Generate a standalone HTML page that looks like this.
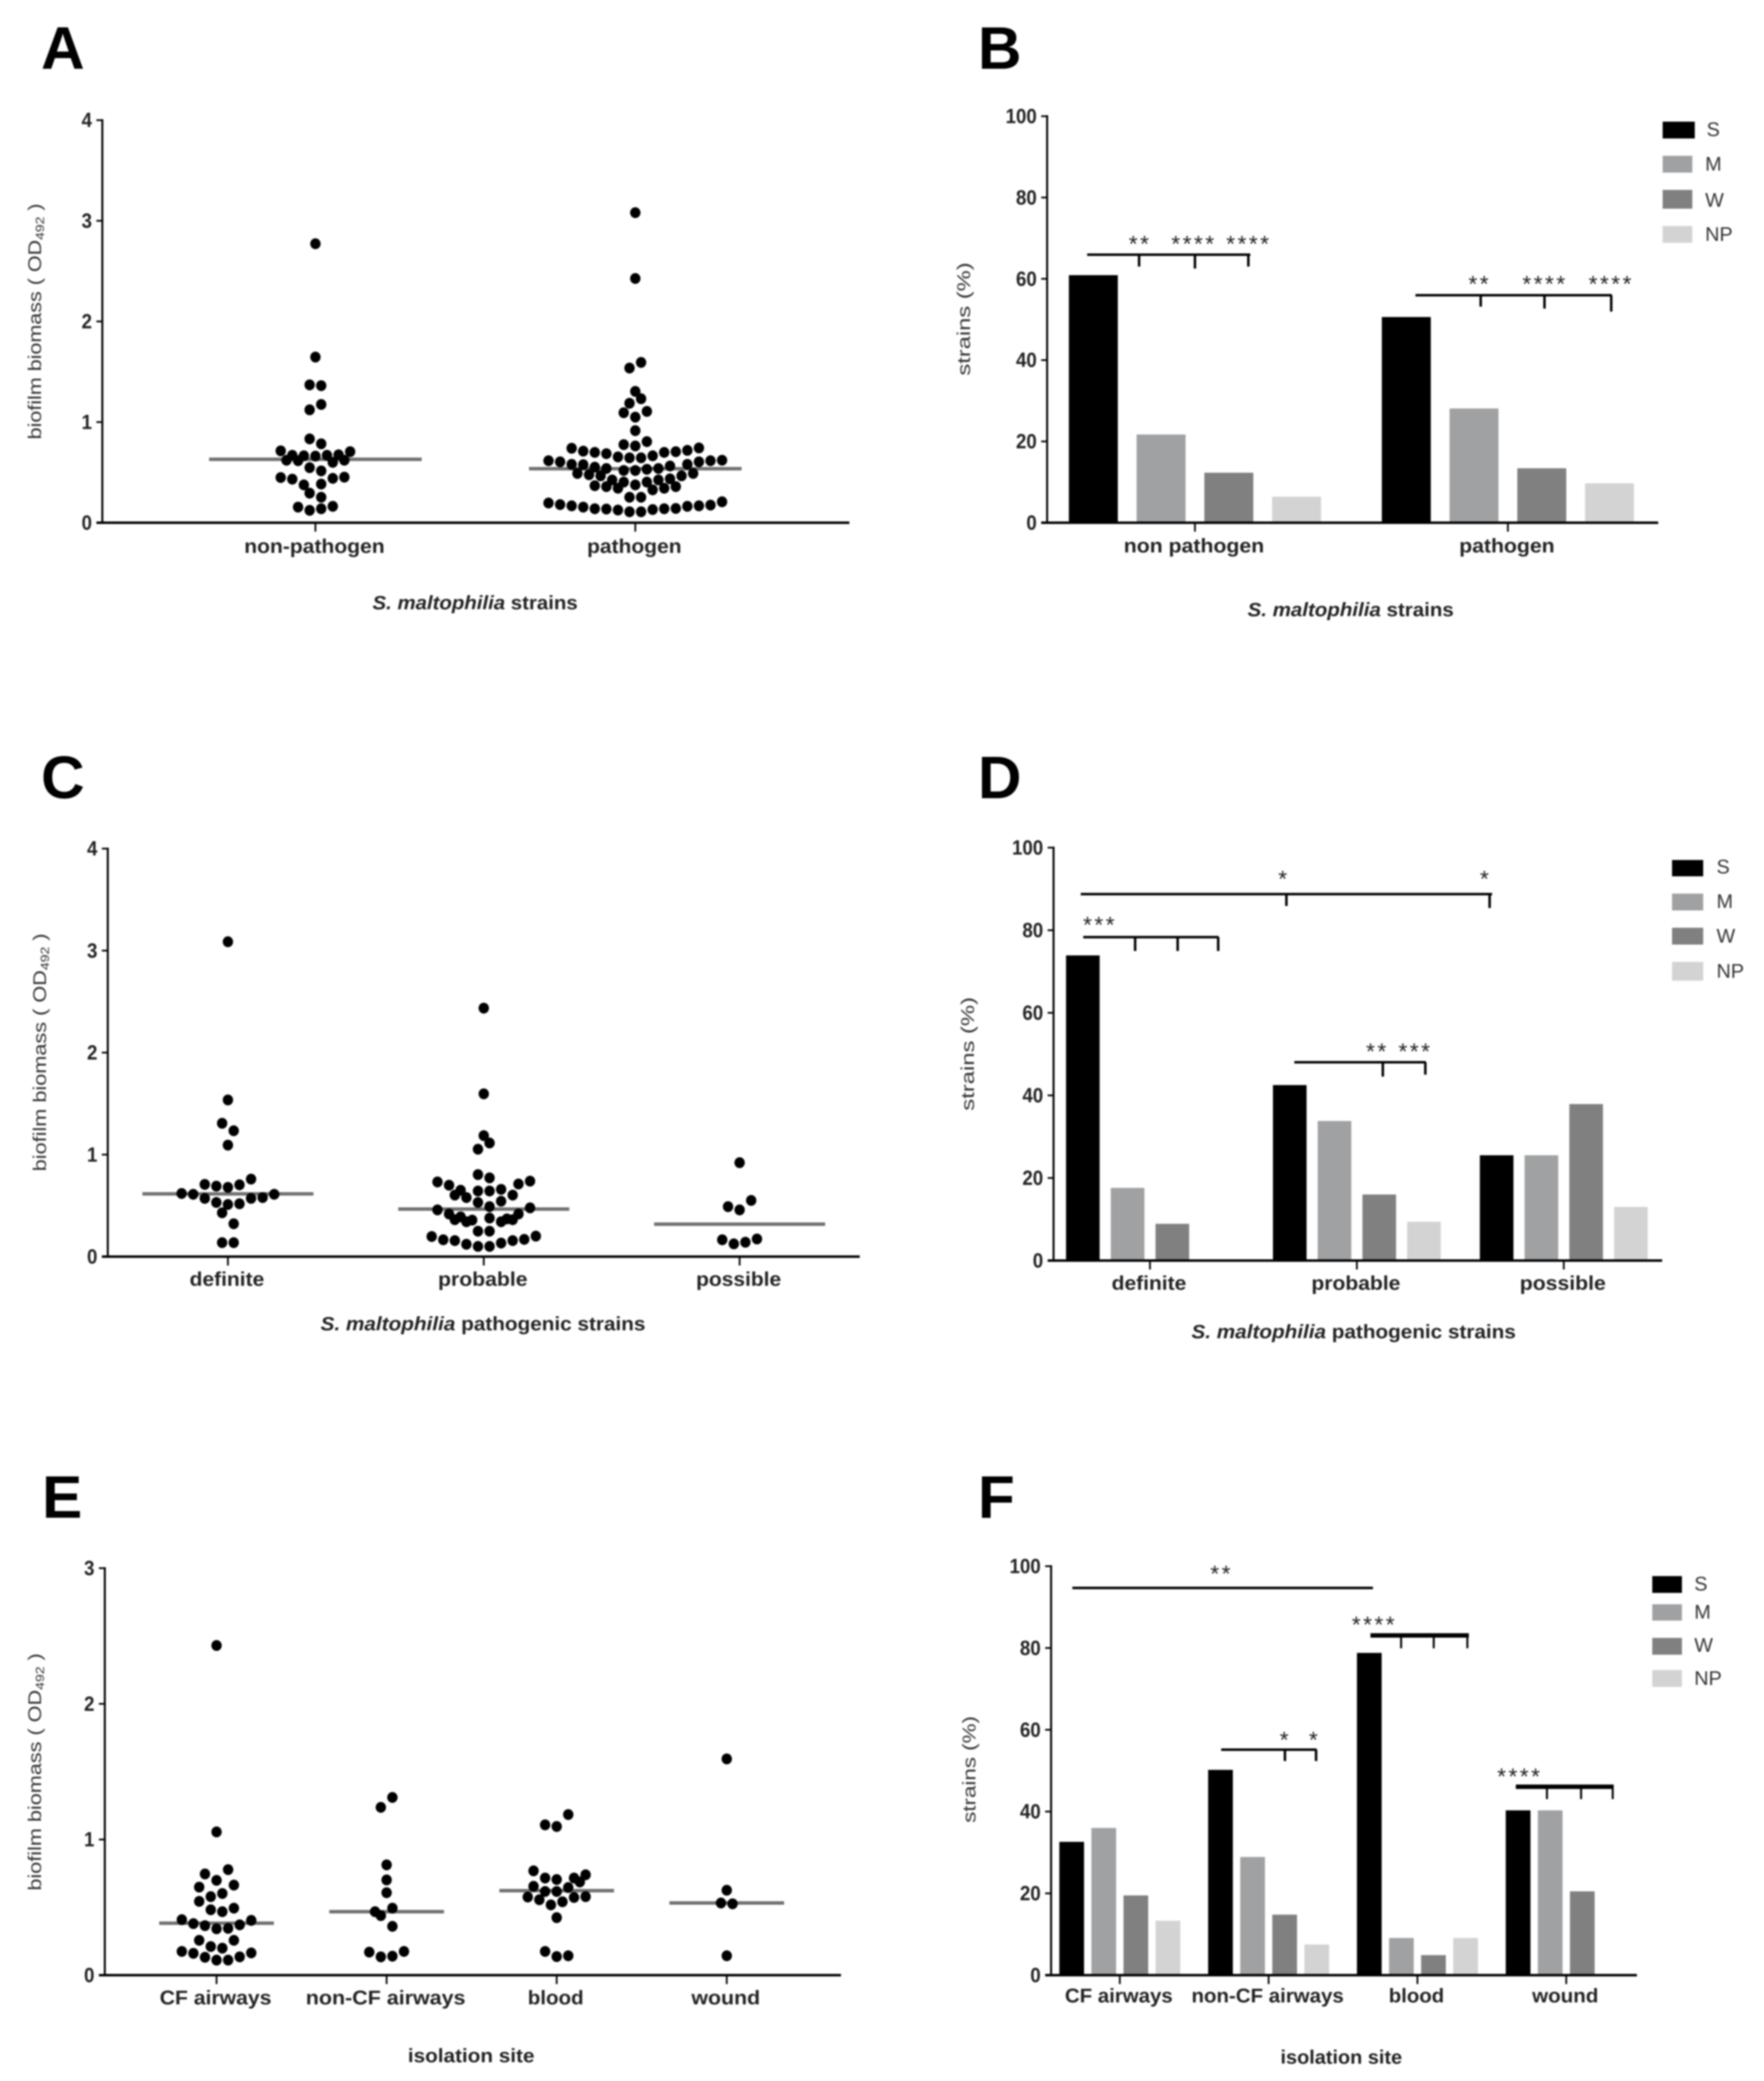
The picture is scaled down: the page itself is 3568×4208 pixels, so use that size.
<!DOCTYPE html>
<html lang="en">
<head>
<meta charset="utf-8">
<title>S. maltophilia biofilm biomass and classes</title>
<style>
html,body{margin:0;padding:0;background:#fff}
#figure{display:block;width:3568px;height:4208px;filter:blur(1.7px);font-family:"Liberation Sans",Arial,sans-serif}
.letter{font-size:122px;font-weight:bold;fill:#000}
.star{font-size:46px;letter-spacing:5px;text-anchor:middle;fill:#222}
.legend-label{font-size:40px;fill:#333}
.x-title{font-size:39px;font-weight:bold;text-anchor:middle;fill:#222}
.y-title{font-size:37px;text-anchor:middle;fill:#333}
.sub{font-size:24px}
.tick-label{font-size:42px;font-weight:bold;text-anchor:end;fill:#222}
.cat-label{font-size:40px;font-weight:bold;text-anchor:middle;fill:#222}
.br{stroke:#000;stroke-width:5;fill:none}
.br-thick{stroke:#000;stroke-width:9;fill:none}
.tk{stroke:#000;stroke-width:4;fill:none}
</style>
</head>
<body>
<svg id="figure" xmlns="http://www.w3.org/2000/svg" width="3568" height="4208" viewBox="0 0 3568 4208">
<rect x="0" y="0" width="3568" height="4208" fill="#fff"/>

<text class="letter" x="83" y="139">A</text>
<text class="letter" x="1978" y="139">B</text>
<text class="letter" x="83" y="1614">C</text>
<text class="letter" x="1978" y="1614">D</text>
<text class="letter" x="85" y="3069">E</text>
<text class="letter" x="1978" y="3069">F</text>

<text class="y-title" transform="translate(83,650) rotate(-90)" textLength="477" lengthAdjust="spacingAndGlyphs">biofilm biomass ( OD<tspan class="sub" dy="6">492</tspan><tspan dy="-6"> )</tspan></text>
<text class="y-title" transform="translate(93,2128) rotate(-90)" textLength="481" lengthAdjust="spacingAndGlyphs">biofilm biomass ( OD<tspan class="sub" dy="6">492</tspan><tspan dy="-6"> )</tspan></text>
<text class="y-title" transform="translate(83,3583) rotate(-90)" textLength="480" lengthAdjust="spacingAndGlyphs">biofilm biomass ( OD<tspan class="sub" dy="6">492</tspan><tspan dy="-6"> )</tspan></text>
<text class="y-title" transform="translate(1962,645) rotate(-90)" textLength="229" lengthAdjust="spacingAndGlyphs">strains (%)</text>
<text class="y-title" transform="translate(1970,2131) rotate(-90)" textLength="230" lengthAdjust="spacingAndGlyphs">strains (%)</text>
<text class="y-title" transform="translate(1973,3578) rotate(-90)" textLength="216" lengthAdjust="spacingAndGlyphs">strains (%)</text>

<text class="x-title" x="961" y="1232" textLength="415" lengthAdjust="spacingAndGlyphs"><tspan font-style="italic">S. maltophilia</tspan> strains</text>
<text class="x-title" x="2732" y="1246" textLength="417" lengthAdjust="spacingAndGlyphs"><tspan font-style="italic">S. maltophilia</tspan> strains</text>
<text class="x-title" x="977" y="2690" textLength="657" lengthAdjust="spacingAndGlyphs"><tspan font-style="italic">S. maltophilia</tspan> pathogenic strains</text>
<text class="x-title" x="2738" y="2706" textLength="656" lengthAdjust="spacingAndGlyphs"><tspan font-style="italic">S. maltophilia</tspan> pathogenic strains</text>
<text class="x-title" x="953" y="4170" textLength="256" lengthAdjust="spacingAndGlyphs">isolation site</text>
<text class="x-title" x="2713" y="4173" textLength="246" lengthAdjust="spacingAndGlyphs">isolation site</text>

<g>
  <rect x="3363" y="246" width="65" height="34" fill="#000"/>
  <text class="legend-label" x="3452" y="275">S</text>
  <rect x="3363" y="315" width="60" height="34" fill="#a0a1a3"/>
  <text class="legend-label" x="3449" y="345">M</text>
  <rect x="3363" y="384" width="60" height="38" fill="#808080"/>
  <text class="legend-label" x="3449" y="418">W</text>
  <rect x="3363" y="457" width="60" height="34" fill="#d3d3d3"/>
  <text class="legend-label" x="3449" y="487">NP</text>
</g>
<g>
  <rect x="3382" y="1739" width="63" height="33" fill="#000"/>
  <text class="legend-label" x="3472" y="1766">S</text>
  <rect x="3382" y="1807" width="63" height="34" fill="#a0a1a3"/>
  <text class="legend-label" x="3472" y="1836">M</text>
  <rect x="3382" y="1876" width="63" height="34" fill="#808080"/>
  <text class="legend-label" x="3472" y="1906">W</text>
  <rect x="3382" y="1945" width="63" height="38" fill="#d3d3d3"/>
  <text class="legend-label" x="3472" y="1977">NP</text>
</g>
<g>
  <rect x="3342" y="3187" width="60" height="34" fill="#000"/>
  <text class="legend-label" x="3427" y="3216">S</text>
  <rect x="3342" y="3244" width="60" height="33" fill="#a0a1a3"/>
  <text class="legend-label" x="3427" y="3273">M</text>
  <rect x="3342" y="3312" width="60" height="34" fill="#808080"/>
  <text class="legend-label" x="3427" y="3340">W</text>
  <rect x="3342" y="3377" width="60" height="34" fill="#d3d3d3"/>
  <text class="legend-label" x="3427" y="3407">NP</text>
</g>

<g>
  <path class="br" d="M2199 515H2529M2304 515V539M2417 515V543M2525 515V539"/>
  <path class="br" d="M2863 597H3260M2995 597V620M3124 597V624M3259 597V630"/>
  <text class="star" x="2306" y="509">**</text>
  <text class="star" x="2415" y="509">****</text>
  <text class="star" x="2526" y="509">****</text>
  <text class="star" x="2993" y="590">**</text>
  <text class="star" x="3125" y="590">****</text>
  <text class="star" x="3259" y="590">****</text>
</g>
<g>
  <path class="br" d="M2186 1808H3018M2602 1808V1832M3013 1808V1836"/>
  <path class="br" d="M2191 1895H2465M2296 1895V1923M2382 1895V1923M2464 1895V1923"/>
  <path class="br" d="M2618 2148H2884M2797 2148V2177M2883 2148V2173"/>
  <text class="star" x="2597" y="1793">*</text>
  <text class="star" x="3005" y="1793">*</text>
  <text class="star" x="2225" y="1886">***</text>
  <text class="star" x="2786" y="2142">**</text>
  <text class="star" x="2863" y="2142">***</text>
</g>
<g>
  <path class="br" d="M2169 3211H2777"/>
  <path class="br-thick" d="M2772 3307H2971"/>
  <path class="tk" d="M2834 3307V3333M2900 3307V3333M2968 3307V3333"/>
  <path class="br" d="M2470 3538H2663M2599 3538V3561M2662 3538V3561"/>
  <path class="br-thick" d="M3066 3613H3264"/>
  <path class="tk" d="M3129 3613V3638M3198 3613V3638M3262 3613V3638"/>
  <text class="star" x="2471" y="3198">**</text>
  <text class="star" x="2780" y="3301">****</text>
  <text class="star" x="2600" y="3534">*</text>
  <text class="star" x="2659" y="3534">*</text>
  <text class="star" x="3074" y="3608">****</text>
</g>
<g id="charts"></g>
</svg>

<script>
// ---- Panel A: biofilm biomass, grouped in swarm rows (null = empty slot in the row)
const aCategories = ['non-pathogen', 'pathogen'];
const aTicks = [0, 1, 2, 3, 4];
const aMedians = [0.63, 0.537];
const aNonPathogen = [
  [0.155, 0.123, 0.139, 0.163],
  [0.294, 0.253],
  [0.449, 0.433, 0.376, null, null, null, null],
  [null, null, null, 0.384, 0.441, 0.453],
  [0.547, 0.515],
  [0.621, 0.616, null, null, 0.6, 0.621],
  [0.714, 0.67, 0.665, 0.662, 0.67, 0.675, 0.706],
  [0.833, 0.784],
  [1.122, 1.175],
  [1.37, 1.362],
  [1.646],
  [2.772]
];
const aPathogen = [
  [0.196, 0.18, 0.168, 0.155, 0.139, 0.136, 0.126, 0.109, 0.109, 0.131, 0.139, 0.142, 0.163, 0.168, 0.175, 0.208],
  [0.253, 0.253],
  [0.368, 0.359, 0.343, null, null, 0.327, 0.343, 0.359],
  [0.49, 0.477, 0.466, 0.425, 0.404, 0.376, 0.404, 0.425, 0.436, 0.466, 0.49],
  [0.616, 0.605, 0.58, 0.577, 0.552, 0.539, null, null, null, null, null, null, 0.58, 0.605, 0.616, 0.621],
  [null, null, 0.519, 0.519, 0.531, 0.539, 0.564],
  [0.74, 0.711, 0.699, 0.686, 0.654, 0.645, 0.645, 0.665, 0.699, 0.706, 0.719, 0.743],
  [0.776, 0.763, 0.806],
  [0.915],
  [1.093, 1.049, 1.106],
  [1.187, 1.232],
  [1.305],
  [1.537, 1.593],
  [2.427],
  [3.081]
];

// ---- Panel B: class percentages
const bCategories = ['non pathogen', 'pathogen'];
const bTicks = [0, 20, 40, 60, 80, 100];
const bS = [60.9, 50.6];
const bM = [21.7, 28.1];
const bW = [12.3, 13.4];
const bNP = [6.4, 9.7];

// ---- Panel C
const cCategories = ['definite', 'probable', 'possible'];
const cTicks = [0, 1, 2, 3, 4];
const cMedians = [0.615, 0.466, 0.318];
const cDefinite = [
  [0.137, 0.137],
  [null, 0.322],
  [0.43, null],
  [0.619, 0.611, 0.571, 0.531, 0.511, 0.518, 0.571, 0.579, 0.611],
  [0.708, 0.691, 0.679, 0.704, 0.76],
  [1.093],
  [1.307, 1.234],
  [1.536],
  [3.087]
];
const cProbable = [
  [0.197, 0.165, 0.157, 0.121, 0.1, 0.1, 0.133, 0.157, 0.169, 0.201],
  [0.249, 0.249],
  [0.362, 0.342, null, 0.378, 0.342, 0.362],
  [0.458, 0.418, 0.39, 0.358, null, null, 0.37, 0.418, 0.478],
  [0.603, 0.579, 0.531, 0.49, 0.543, 0.603],
  [0.732, 0.7, 0.651, null, null, null, null, 0.712, 0.74],
  [null, null, 0.643, 0.643, 0.659, null],
  [0.804, 0.772],
  [1.053, 1.114],
  [1.186],
  [1.596],
  [2.436]
];
const cPossible = [
  [0.165, 0.125, 0.141, 0.173],
  [0.49, 0.458, 0.551],
  [0.921]
];

// ---- Panel D
const dCategories = ['definite', 'probable', 'possible'];
const dTicks = [0, 20, 40, 60, 80, 100];
const dS = [73.9, 42.5, 25.5];
const dM = [17.6, 33.8, 25.5];
const dW = [8.9, 16, 37.9];
const dNP = [0, 9.4, 13];

// ---- Panel E
const eCategories = ['CF airways', 'non-CF airways', 'blood', 'wound'];
const eTicks = [0, 1, 2, 3];
const eMedians = [0.383, 0.468, 0.623, 0.532];
const eCf = [
  [0.175, 0.161, 0.132, 0.111, 0.111, 0.135, 0.164],
  [0.211, 0.199],
  [0.257, null, null, 0.257],
  [0.409, 0.38, 0.365, 0.342, 0.345, 0.371, 0.404],
  [null, 0.482, 0.468, 0.494],
  [0.544, 0.579, 0.602, null],
  [0.649, null, null, 0.664],
  [0.746, 0.699, 0.778],
  [1.056],
  [2.43]
];
const eNonCf = [
  [0.17, 0.135, 0.14, 0.175],
  [null, 0.36],
  [0.439, 0.494],
  [0.468, null, null],
  [0.608],
  [0.702],
  [0.813],
  [1.237, 1.31]
];
const eBlood = [
  [0.175, 0.137, 0.143],
  [0.424],
  [0.576, 0.556, 0.518, 0.541, 0.573, 0.579],
  [0.655, 0.617, 0.617, 0.646, 0.687],
  [0.769, 0.716, 0.705, null, null],
  [null, null, null, null, 0.716, 0.74],
  [1.108, 1.096, 1.184]
];
const eWound = [
  [0.143],
  [0.532, 0.526],
  [0.626],
  [1.594]
];

// ---- Panel F
const fCategories = ['CF airways', 'non-CF airways', 'blood', 'wound'];
const fTicks = [0, 20, 40, 60, 80, 100];
const fS = [32.6, 50.2, 78.8, 40.3];
const fM = [36, 28.9, 9.1, 40.3];
const fW = [19.5, 14.8, 4.9, 20.5];
const fNP = [13.3, 7.5, 9.1, 0];

const SVGNS = 'http://www.w3.org/2000/svg';
const root = document.getElementById('charts');
const SERIES_COLORS = ['#000000', '#a0a1a3', '#808080', '#d3d3d3'];
const SERIES_KEYS = ['s', 'm', 'w', 'np'];

function make(tag, parent, attrs) {
  const el = document.createElementNS(SVGNS, tag);
  for (const k in attrs) el.setAttribute(k, attrs[k]);
  parent.appendChild(el);
  return el;
}

function drawFrame(p, categories, ticks) {
  const g = make('g', root, {});
  
  
  const maxTick = ticks[ticks.length - 1];
  p.y = function (v) { return p.y0 - (v / maxTick) * (p.y0 - p.yTop); };
  p.x = function (i) { return p.cat0 + i * p.catStep; };

  const yAxis = make('line', g, { x1: p.left, x2: p.left, y1: p.yTop - 2, y2: p.y0 + 2, stroke: '#000', 'stroke-width': 4 });
  
  

  const xAxis = make('line', g, { x1: p.left - 12, x2: p.right, y1: p.y0, y2: p.y0, stroke: '#000', 'stroke-width': 5 });
  
  

  ticks.forEach(function (t) {
    const mark = make('line', g, { x1: p.left - 12, x2: p.left, y1: p.y(t), y2: p.y(t), stroke: '#000', 'stroke-width': 3.5 });
    
    
    const label = make('text', g, { x: p.left - 21, y: p.y(t) + 14, class: 'tick-label', textLength: String(t).length * 21, lengthAdjust: 'spacingAndGlyphs' });
    
    
    label.textContent = String(t);
  });

  categories.forEach(function (c, i) {
    const mark = make('line', g, { x1: p.x(i), x2: p.x(i), y1: p.y0, y2: p.y0 + 18, stroke: '#000', 'stroke-width': 3.5 });
    
    
    const label = make('text', g, { x: p.x(i) - 2, y: p.labelY, class: 'cat-label', textLength: p.labelWidths[i], lengthAdjust: 'spacingAndGlyphs' });
    
    
    label.textContent = c;
  });
}

function drawSwarm(p, categories, ticks, groups, medians) {
  drawFrame(p, categories, ticks);
  const step = 23.4;
  groups.forEach(function (rows, c) {
    const g = make('g', root, {});
    
    
    const median = make('line', g, {
      x1: p.x(c) - p.medianHalf, x2: p.x(c) + p.medianHalf,
      y1: p.y(medians[c]), y2: p.y(medians[c]),
      stroke: '#707070', 'stroke-width': 7
    });
    
    
    rows.forEach(function (row) {
      row.forEach(function (v, slot) {
        if (v === null) return;
        const cx = p.x(c) + (slot - (row.length - 1) / 2) * step;
        const dot = make('ellipse', g, { cx: cx, cy: p.y(v), rx: 10.5, ry: 11, fill: '#000' });
        
        
      });
    });
  });
}

function drawBars(p, categories, ticks, series) {
  const g = make('g', root, {});
  
  
  drawFrameBefore(p, categories, ticks);
  series.forEach(function (values, s) {
    values.forEach(function (v, i) {
      if (!v) return;
      const x = p.x(i) + (s - 1.5) * p.barStep - p.barWidth / 2;
      const bar = make('rect', g, { x: x, y: p.y(v), width: p.barWidth, height: p.y0 - p.y(v), fill: SERIES_COLORS[s] });
      
      
    });
  });
  root.appendChild(root.removeChild(p.frameNode));
}

function drawFrameBefore(p, categories, ticks) {
  drawFrame(p, categories, ticks);
  p.frameNode = root.lastChild;
}

drawSwarm(
  { id: 'a', left: 207, right: 1718, y0: 1057, yTop: 243, cat0: 638, catStep: 647, labelY: 1118, labelWidths: [284, 191], medianHalf: 215 },
  aCategories, aTicks, [aNonPathogen, aPathogen], aMedians
);
drawBars(
  { id: 'b', left: 2118, right: 3354, y0: 1057, yTop: 235, cat0: 2417, catStep: 633, labelY: 1117, labelWidths: [284, 193], barStep: 137, barWidth: 99 },
  bCategories, bTicks, [bS, bM, bW, bNP]
);
drawSwarm(
  { id: 'c', left: 218, right: 1739, y0: 2541, yTop: 1716, cat0: 461, catStep: 517.5, labelY: 2600, labelWidths: [151, 181, 172], medianHalf: 173 },
  cCategories, cTicks, [cDefinite, cProbable, cPossible], cMedians
);
drawBars(
  { id: 'd', left: 2131, right: 3362, y0: 2549, yTop: 1714, cat0: 2326, catStep: 418.5, labelY: 2608, labelWidths: [151, 180, 174], barStep: 90.5, barWidth: 68 },
  dCategories, dTicks, [dS, dM, dW, dNP]
);
drawSwarm(
  { id: 'e', left: 212, right: 1701, y0: 3994, yTop: 3171, cat0: 438, catStep: 344, labelY: 4053, labelWidths: [226, 323, 113, 139], medianHalf: 116 },
  eCategories, eTicks, [eCf, eNonCf, eBlood, eWound], eMedians
);
drawBars(
  { id: 'f', left: 2126, right: 3311, y0: 3994, yTop: 3167, cat0: 2265, catStep: 301, labelY: 4049, labelWidths: [218, 308, 112, 134], barStep: 64.9, barWidth: 50 },
  fCategories, fTicks, [fS, fM, fW, fNP]
);
</script>
</body>
</html>
